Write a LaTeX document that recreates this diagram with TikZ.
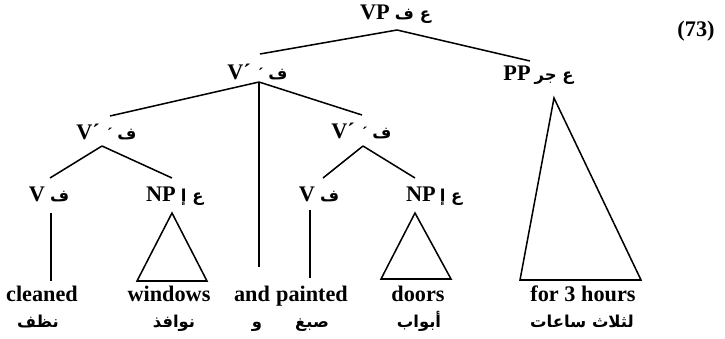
\documentclass[tikz,border=0pt]{standalone}
\usepackage{fontspec}
\setmainfont{Liberation Serif}
\newfontfamily\arabicfont[Script=Arabic]{DejaVu Sans}
\TeXXeTstate=1
\usetikzlibrary{positioning}
\newcommand{\artxt}[1]{\beginR #1\endR}

\begin{document}
\begin{tikzpicture}[x=0.03cm, y=-0.03cm]
			\tikzstyle{cat} = [inner sep=0pt, anchor=base, font=\fontsize{19}{22}\selectfont\bfseries]
			\tikzstyle{arb} = [inner sep=0pt, font=\fontsize{14}{17}\selectfont\arabicfont\bfseries]
			\tikzstyle{gloss} = [arb, anchor=base]
			\tikzstyle{branch} = [line width=1.3pt]
			\useasboundingbox (0,0) rectangle (725,339);

			% category labels
			\path
			node[cat] (vp) at (375,20) {VP}
			node[arb, right=4pt of vp.base east, anchor=base west] (vpa) {\artxt{ع ف}}
			node[cat] (v1) at (239,80) {V´}
			node[arb, right=6pt of v1.base east, anchor=base west] (v1a) {{\rmfamily\bfseries ´}\hspace{4pt}ف}
			node[cat] (pp) at (517,81) {PP}
			node[arb, right=3pt of pp.base east, anchor=base west] (ppa) {\artxt{ع جر}}
			node[cat] (v2) at (88,139) {V´}
			node[arb, right=6pt of v2.base east, anchor=base west] (v2a) {{\rmfamily\bfseries ´}\hspace{4pt}ف}
			node[cat] (v3) at (343,138) {V´}
			node[arb, right=6pt of v3.base east, anchor=base west] (v3a) {{\rmfamily\bfseries ´}\hspace{4pt}ف}
			node[cat] (va) at (37,201) {V}
			node[arb, right=4pt of va.base east, anchor=base west] (vaa) {ف}
			node[cat] (np1) at (161,201) {NP}
			node[arb, right=4pt of np1.base east, anchor=base west] (np1a) {\artxt{ع إ}}
			node[cat] (vb) at (307,201) {V}
			node[arb, right=4pt of vb.base east, anchor=base west] (vba) {ف}
			node[cat] (np2) at (421,201) {NP}
			node[arb, right=3pt of np2.base east, anchor=base west] (np2a) {\artxt{ع إ}}
			node[cat] (num) at (696,37) {(73)}
			;

			% words and glosses
			\path
			node[cat] (w1) at (42,301) {cleaned}
			node[cat] (w2) at (169,301) {windows}
			node[cat] (w3) at (252,301) {and}
			node[cat] (w4) at (312,301) {painted}
			node[cat] (w5) at (418,301) {doors}
			node[cat] (w6) at (583,301) {for 3 hours}
			node[gloss] (g1) at (38,327) {نظف}
			node[gloss] (g2) at (174,327) {نوافذ}
			node[gloss] (g3) at (257,327) {و}
			node[gloss] (g4) at (312,327) {صبغ}
			node[gloss] (g5) at (419,327) {\artxt{أبواب}}
			node[gloss] (g6) at (582,327) {\artxt{لثلاث ساعات}}
			;

			% joints of the tree
			\coordinate (vp-r) at (397,30);
			\coordinate (v1-t) at (260,54);
			\coordinate (v1-r) at (259,82);
			\coordinate (pp-t) at (530,61);
			\coordinate (pp-r) at (554,98);
			\coordinate (pp-bl) at (520,280);
			\coordinate (pp-br) at (641,280);
			\coordinate (v2-t) at (110,116);
			\coordinate (v2-r) at (102,146);
			\coordinate (and-b) at (259,267);
			\coordinate (v3-t) at (362,115);
			\coordinate (v3-r) at (363,146);
			\coordinate (va-t) at (50,178);
			\coordinate (np1-t) at (172,178);
			\coordinate (va-s) at (51,213);
			\coordinate (va-b) at (51,281);
			\coordinate (np1-r) at (172,213);
			\coordinate (np1-bl) at (137,281);
			\coordinate (np1-br) at (207,281);
			\coordinate (vb-t) at (323,178);
			\coordinate (np2-t) at (415,178);
			\coordinate (vb-s) at (310,210);
			\coordinate (vb-b) at (310,278);
			\coordinate (np2-r) at (415,213);
			\coordinate (np2-bl) at (381,279);
			\coordinate (np2-br) at (451,279);

			\path[branch]
			(vp-r) edge (v1-t)
			(vp-r) edge (pp-t)
			(v1-r) edge (v2-t)
			(v1-r) edge (and-b)
			(v1-r) edge (v3-t)
			(v2-r) edge (va-t)
			(v2-r) edge (np1-t)
			(v3-r) edge (vb-t)
			(v3-r) edge (np2-t)
			(va-s) edge (va-b)
			(vb-s) edge (vb-b)
			;
			\draw[branch, line join=miter] (pp-r) -- (pp-bl) -- (pp-br) -- cycle;
			\draw[branch, line join=miter] (np1-r) -- (np1-bl) -- (np1-br) -- cycle;
			\draw[branch, line join=miter] (np2-r) -- (np2-bl) -- (np2-br) -- cycle;
\end{tikzpicture}
\end{document}
